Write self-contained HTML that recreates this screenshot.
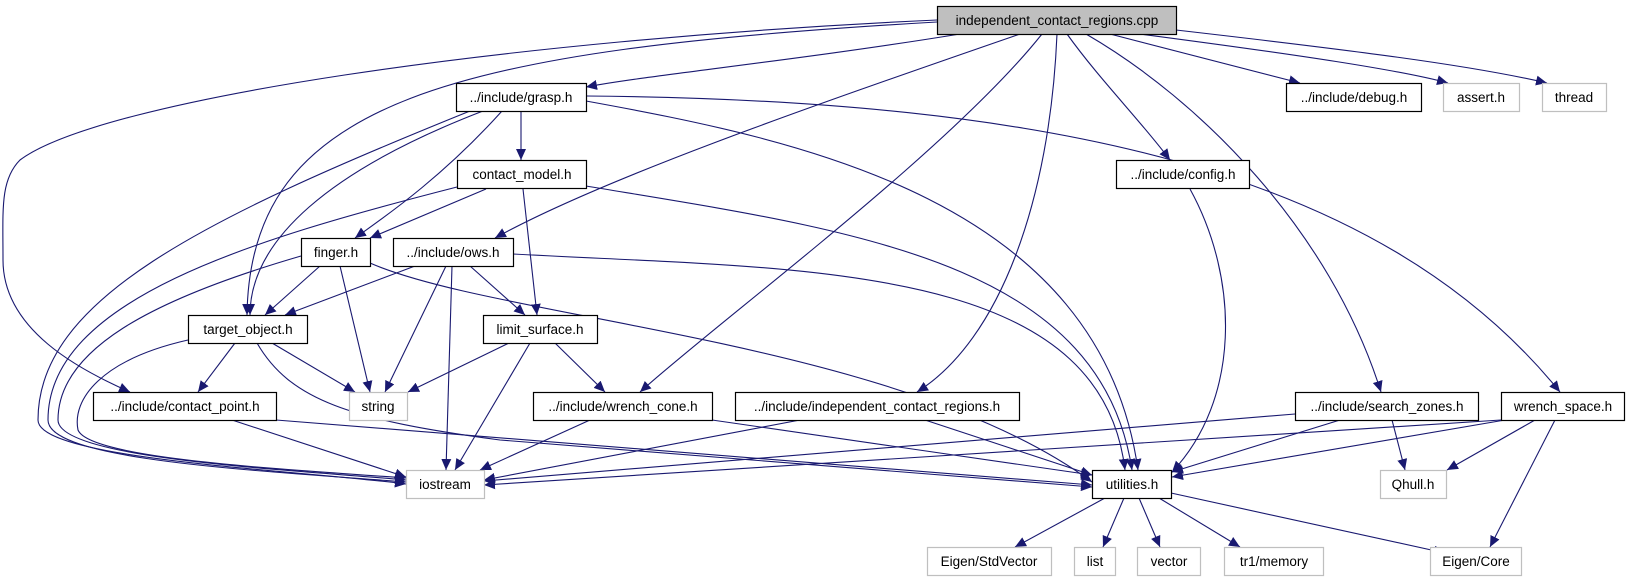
<!DOCTYPE html>
<html><head><meta charset="utf-8"><style>
html,body{margin:0;padding:0;background:#fff;}
svg{display:block;}
text{font-family:"Liberation Sans",sans-serif;font-size:13.5px;fill:#000;}
</style></head><body>
<svg width="1629" height="581" viewBox="0 0 1629 581" xmlns="http://www.w3.org/2000/svg">
<defs>
<marker id="a" markerUnits="userSpaceOnUse" markerWidth="12" markerHeight="10" refX="11" refY="5" orient="auto">
<path d="M0,0 L11,5 L0,10 Z" fill="#191970"/>
</marker>
</defs>
<g fill="none" stroke="#191970" stroke-width="1.1" marker-end="url(#a)">
<!-- cpp -->
<path d="M960 34 C800 60,650 75,586 87"/>
<path d="M937 22 C450 50,250 100,247 315"/>
<path d="M937 20 C500 40,100 100,20 160 C0 180,3 210,3 260 C3 330,80 370,130 392"/>
<path d="M1020 34 C800 110,600 180,495 238"/>
<path d="M1042 34 C950 150,720 320,640 392"/>
<path d="M1057 34 C1050 200,1000 340,917 392"/>
<path d="M1067 34 C1100 80,1140 120,1170 160"/>
<path d="M1086 34 C1200 100,1330 230,1381 392"/>
<path d="M1110 34 L1300 83"/>
<path d="M1140 34 C1300 55,1400 70,1448 83"/>
<path d="M1176 30 C1350 50,1470 65,1547 83"/>
<!-- grasp -->
<path d="M521 111 L521 160"/>
<path d="M502 111 C440 180,380 220,355 238"/>
<path d="M483 111 C330 170,250 240,250 315"/>
<path d="M470 111 C200 220,38 300,38 420 C38 460,300 470,406 484"/>
<path d="M586 101 C800 140,1100 200,1138 470"/>
<path d="M586 96 C1050 100,1380 170,1560 392"/>
<!-- contact_model -->
<path d="M486 189 L370 238"/>
<path d="M523 189 L537 315"/>
<path d="M457 187 C250 240,48 300,48 420 C48 460,250 470,406 482"/>
<path d="M586 186 C850 230,1100 260,1132 470"/>
<!-- finger -->
<path d="M320 266 L265 315"/>
<path d="M340 266 L370 392"/>
<path d="M301 256 C150 300,58 350,58 420 C58 460,300 470,406 480"/>
<path d="M370 263 C500 320,900 340,1092 482"/>
<!-- ows -->
<path d="M415 266 L285 315"/>
<path d="M446 266 L385 392"/>
<path d="M452 266 L446 470"/>
<path d="M470 266 L525 315"/>
<path d="M513 254 C800 270,1100 260,1125 470"/>
<!-- target_object -->
<path d="M235 343 L198 392"/>
<path d="M272 343 L355 392"/>
<path d="M188 340 C100 360,72 400,78 430 C90 460,300 470,406 478"/>
<path d="M257 343 C290 400,350 420,500 440 L1092 487"/>
<!-- limit_surface -->
<path d="M509 343 L408 392"/>
<path d="M530 343 L455 470"/>
<path d="M555 343 L605 392"/>
<!-- contact_point -->
<path d="M232 420 L406 477"/>
<path d="M276 420 L1092 485"/>
<!-- wrench_cone -->
<path d="M590 420 L480 470"/>
<path d="M712 420 L1092 475"/>
<!-- indep.h -->
<path d="M800 420 L484 480"/>
<path d="M925 420 L1092 475"/>
<!-- search_zones -->
<path d="M1295 414 L484 481"/>
<path d="M1340 420 L1172 472"/>
<path d="M1392 420 L1405 470"/>
<!-- wrench_space -->
<path d="M1501 420 L484 485"/>
<path d="M1505 420 L1172 477"/>
<path d="M1535 420 L1447 470"/>
<path d="M1555 420 L1490 547"/>
<!-- config -->
<path d="M1190 189 C1240 280,1240 400,1172 472"/>
<!-- utilities -->
<path d="M1105 498 L1015 547"/>
<path d="M1124 498 L1103 547"/>
<path d="M1139 498 L1160 547"/>
<path d="M1159 498 L1240 547"/>
<path d="M1171 493 L1445 553"/>
</g>
<g stroke-width="1.2">
<rect x="937.5" y="6.5" width="239" height="28" fill="#bfbfbf" stroke="#000"/>
<g fill="#fff" stroke="#000">
<rect x="456.5" y="83.5" width="130" height="28"/>
<rect x="1286.5" y="83.5" width="135" height="28"/>
<rect x="457.5" y="160.5" width="129" height="28"/>
<rect x="1116.5" y="160.5" width="133" height="28"/>
<rect x="301.5" y="238.5" width="69" height="28"/>
<rect x="393.5" y="238.5" width="120" height="28"/>
<rect x="188.5" y="315.5" width="119" height="28"/>
<rect x="483.5" y="315.5" width="114" height="28"/>
<rect x="93.5" y="392.5" width="183" height="28"/>
<rect x="533.5" y="392.5" width="179" height="28"/>
<rect x="735.5" y="392.5" width="284" height="28"/>
<rect x="1295.5" y="392.5" width="183" height="28"/>
<rect x="1501.5" y="392.5" width="123" height="28"/>
<rect x="1092.5" y="470.5" width="79" height="28"/>
</g>
<g fill="#fff" stroke="#bfbfbf">
<rect x="1443.5" y="83.5" width="76" height="28"/>
<rect x="1542.5" y="83.5" width="64" height="28"/>
<rect x="349.5" y="392.5" width="58" height="28"/>
<rect x="406.5" y="470.5" width="78" height="28"/>
<rect x="1380.5" y="470.5" width="66" height="28"/>
<rect x="927.5" y="547.5" width="124" height="28"/>
<rect x="1074.5" y="547.5" width="41" height="28"/>
<rect x="1137.5" y="547.5" width="63" height="28"/>
<rect x="1224.5" y="547.5" width="99" height="28"/>
<rect x="1430.5" y="547.5" width="91" height="28"/>
</g>
</g>
<g text-anchor="middle">
<text x="1057" y="25">independent_contact_regions.cpp</text>
<text x="521" y="102">../include/grasp.h</text>
<text x="1354" y="102">../include/debug.h</text>
<text x="1481" y="102">assert.h</text>
<text x="1574" y="102">thread</text>
<text x="522" y="179">contact_model.h</text>
<text x="1183" y="179">../include/config.h</text>
<text x="336" y="257">finger.h</text>
<text x="453" y="257">../include/ows.h</text>
<text x="248" y="334">target_object.h</text>
<text x="540" y="334">limit_surface.h</text>
<text x="185" y="411">../include/contact_point.h</text>
<text x="378" y="411">string</text>
<text x="623" y="411">../include/wrench_cone.h</text>
<text x="877" y="411">../include/independent_contact_regions.h</text>
<text x="1387" y="411">../include/search_zones.h</text>
<text x="1563" y="411">wrench_space.h</text>
<text x="445" y="489">iostream</text>
<text x="1132" y="489">utilities.h</text>
<text x="1413" y="489">Qhull.h</text>
<text x="989" y="566">Eigen/StdVector</text>
<text x="1095" y="566">list</text>
<text x="1169" y="566">vector</text>
<text x="1274" y="566">tr1/memory</text>
<text x="1476" y="566">Eigen/Core</text>
</g>
</svg>
</body></html>
